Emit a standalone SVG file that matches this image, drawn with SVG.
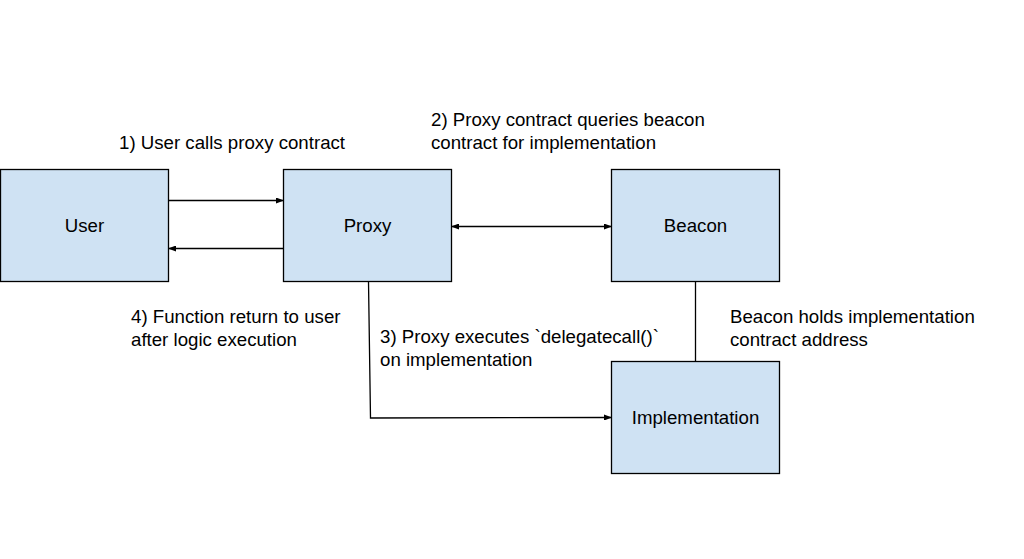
<svg xmlns="http://www.w3.org/2000/svg" width="1024" height="559" viewBox="0 0 1024 559">
<defs>
<style>
.box{fill:#cfe2f3;stroke:#000;stroke-width:1.3}
.lbl{font-family:"Liberation Sans",Arial,sans-serif;font-size:18.67px;fill:#000}
.c{text-anchor:middle}
.ln{stroke:#000;stroke-width:1.3;fill:none}
</style>
<marker id="ah" markerWidth="8" markerHeight="6" refX="7" refY="3" orient="auto-start-reverse" markerUnits="userSpaceOnUse">
<path d="M0,0 L8,3 L0,6 Z" fill="#000"/>
</marker>
</defs>
<rect width="1024" height="559" fill="#fff"/>
<g id="user"><rect class="box" x="0.5" y="169.5" width="168" height="112"/><text class="lbl c" x="84.5" y="232">User</text></g>
<g id="proxy"><rect class="box" x="283.5" y="169.5" width="168" height="112"/><text class="lbl c" x="367.5" y="232">Proxy</text></g>
<g id="beacon"><rect class="box" x="611.5" y="169.5" width="168" height="112"/><text class="lbl c" x="695.5" y="232">Beacon</text></g>
<g id="implementation"><rect class="box" x="611.5" y="361.5" width="168" height="112"/><text class="lbl c" x="695.5" y="424">Implementation</text></g>
<g id="connectors">
<line class="ln" x1="168.5" y1="200.5" x2="283" y2="200.5" marker-end="url(#ah)"/>
<line class="ln" x1="283.5" y1="248.5" x2="169" y2="248.5" marker-end="url(#ah)"/>
<line class="ln" x1="452" y1="226.5" x2="611" y2="226.5" marker-start="url(#ah)" marker-end="url(#ah)"/>
<polyline class="ln" points="368.5,281.5 370.5,418 611,417.5" marker-end="url(#ah)"/>
<line class="ln" x1="695.5" y1="281.5" x2="695.5" y2="361.5"/>
</g>
<g id="labels">
<text class="lbl" x="119" y="149">1) User calls proxy contract</text>
<text class="lbl" x="431" y="126">2) Proxy contract queries beacon</text>
<text class="lbl" x="431" y="149">contract for implementation</text>
<text class="lbl" x="131" y="323">4) Function return to user</text>
<text class="lbl" x="131" y="346">after logic execution</text>
<text class="lbl" x="380" y="343">3) Proxy executes `delegatecall()`</text>
<text class="lbl" x="380" y="366">on implementation</text>
<text class="lbl" x="730" y="323">Beacon holds implementation</text>
<text class="lbl" x="730" y="346">contract address</text>
</g>
</svg>
